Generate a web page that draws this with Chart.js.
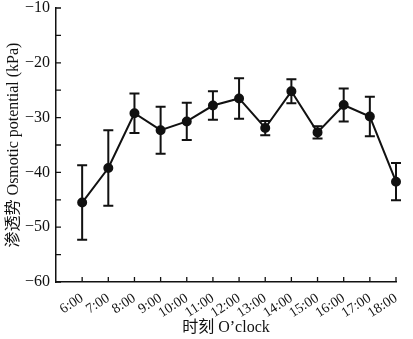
<!DOCTYPE html>
<html>
<head>
<meta charset="utf-8">
<script src="https://cdn.jsdelivr.net/npm/chart.js@4.4.1/dist/chart.umd.min.js"></script>
<style>
    html, body { margin: 0; padding: 0; background: #fff; }
    #wrap { width: 413px; height: 339px; }
</style>
</head>
<body>
<div id="wrap"><canvas id="osmoChart"></canvas></div>
<script>
// sampling hours (6:00 .. 18:00)
const hours = [6, 7, 8, 9, 10, 11, 12, 13, 14, 15, 16, 17, 18];
// mean osmotic potential, kPa
const potential = [-45.5, -39.2, -29.2, -32.3, -30.7, -27.8, -26.5, -31.9, -25.2, -32.7, -27.7, -29.8, -41.7];
// standard deviation, kPa
const errors = [6.8, 6.9, 3.6, 4.3, 3.4, 2.6, 3.7, 1.3, 2.2, 1.1, 3.0, 3.6, 3.4];

const serif = '"Liberation Serif", "Noto Sans CJK SC", serif';

function fmtMinus(v) {
    return String(v).replace('-', '\u2212');
}

// vertical error bars with caps
const errorBarPlugin = {
    id: 'errorBars',
    afterDatasetsDraw(chart) {
        const ctx = chart.ctx;
        const xs = chart.scales.x, ys = chart.scales.y;
        ctx.save();
        ctx.strokeStyle = '#111';
        ctx.lineWidth = 2;
        hours.forEach((h, i) => {
            const x = xs.getPixelForValue(h);
            const top = ys.getPixelForValue(potential[i] + errors[i]);
            const bot = ys.getPixelForValue(potential[i] - errors[i]);
            ctx.beginPath();
            ctx.moveTo(x, top); ctx.lineTo(x, bot);
            ctx.moveTo(x - 5, top); ctx.lineTo(x + 5, top);
            ctx.moveTo(x - 5, bot); ctx.lineTo(x + 5, bot);
            ctx.stroke();
        });
        ctx.restore();
    }
};

// inward tick marks on both axes (major + minor on y)
const innerTicksPlugin = {
    id: 'innerTicks',
    afterDraw(chart) {
        const ctx = chart.ctx;
        const xs = chart.scales.x, ys = chart.scales.y;
        const area = chart.chartArea;
        ctx.save();
        ctx.strokeStyle = '#111';
        ctx.lineWidth = 1.3;
        ctx.beginPath();
        for (let v = -60; v <= -10; v += 5) {
            const y = ys.getPixelForValue(v);
            ctx.moveTo(area.left, y);
            ctx.lineTo(area.left + 5, y);
        }
        hours.forEach(h => {
            const x = xs.getPixelForValue(h);
            ctx.moveTo(x, area.bottom);
            ctx.lineTo(x, area.bottom - 5);
        });
        ctx.stroke();
        ctx.restore();
    }
};

const ctx = document.getElementById('osmoChart').getContext('2d');
new Chart(ctx, {
    type: 'line',
    data: {
        datasets: [{
            data: hours.map((h, i) => ({ x: h, y: potential[i] })),
            borderColor: '#111',
            backgroundColor: '#111',
            borderWidth: 2,
            pointRadius: 4,
            pointHoverRadius: 4,
            tension: 0,
            clip: false
        }]
    },
    options: {
        responsive: true,
        maintainAspectRatio: false,
        animation: false,
        layout: { padding: { top: 8, right: 17, left: 2, bottom: 0 } },
        plugins: {
            legend: { display: false },
            tooltip: { enabled: false }
        },
        scales: {
            x: {
                type: 'linear',
                min: 5,
                max: 18,
                afterBuildTicks(scale) {
                    scale.ticks = hours.map(h => ({ value: h }));
                },
                afterFit(scale) {
                    scale.height = 57;
                    scale.paddingLeft = 0;
                    scale.paddingRight = 0;
                },
                grid: { display: false, drawTicks: false },
                border: { display: true, color: '#111', width: 1.5 },
                ticks: {
                    autoSkip: false,
                    minRotation: 33,
                    maxRotation: 33,
                    padding: 8,
                    color: '#111',
                    font: { family: serif, size: 14 },
                    callback: v => v + ':00'
                },
                title: {
                    display: true,
                    text: '时刻 O’clock',
                    color: '#111',
                    font: { family: serif, size: 16 },
                    padding: { top: 0, bottom: 2 }
                }
            },
            y: {
                min: -60,
                max: -10,
                afterFit(scale) {
                    scale.width = 54;
                    scale.paddingTop = 0;
                    scale.paddingBottom = 0;
                },
                grid: { display: false, drawTicks: false },
                border: { display: true, color: '#111', width: 1.5 },
                ticks: {
                    stepSize: 10,
                    padding: 6,
                    color: '#111',
                    font: { family: serif, size: 16 },
                    callback: v => fmtMinus(v)
                },
                title: {
                    display: true,
                    text: '渗透势 Osmotic potential (kPa)',
                    color: '#111',
                    font: { family: serif, size: 16 },
                    padding: { top: 2, bottom: 0 }
                }
            }
        }
    },
    plugins: [errorBarPlugin, innerTicksPlugin]
});
</script>
</body>
</html>
